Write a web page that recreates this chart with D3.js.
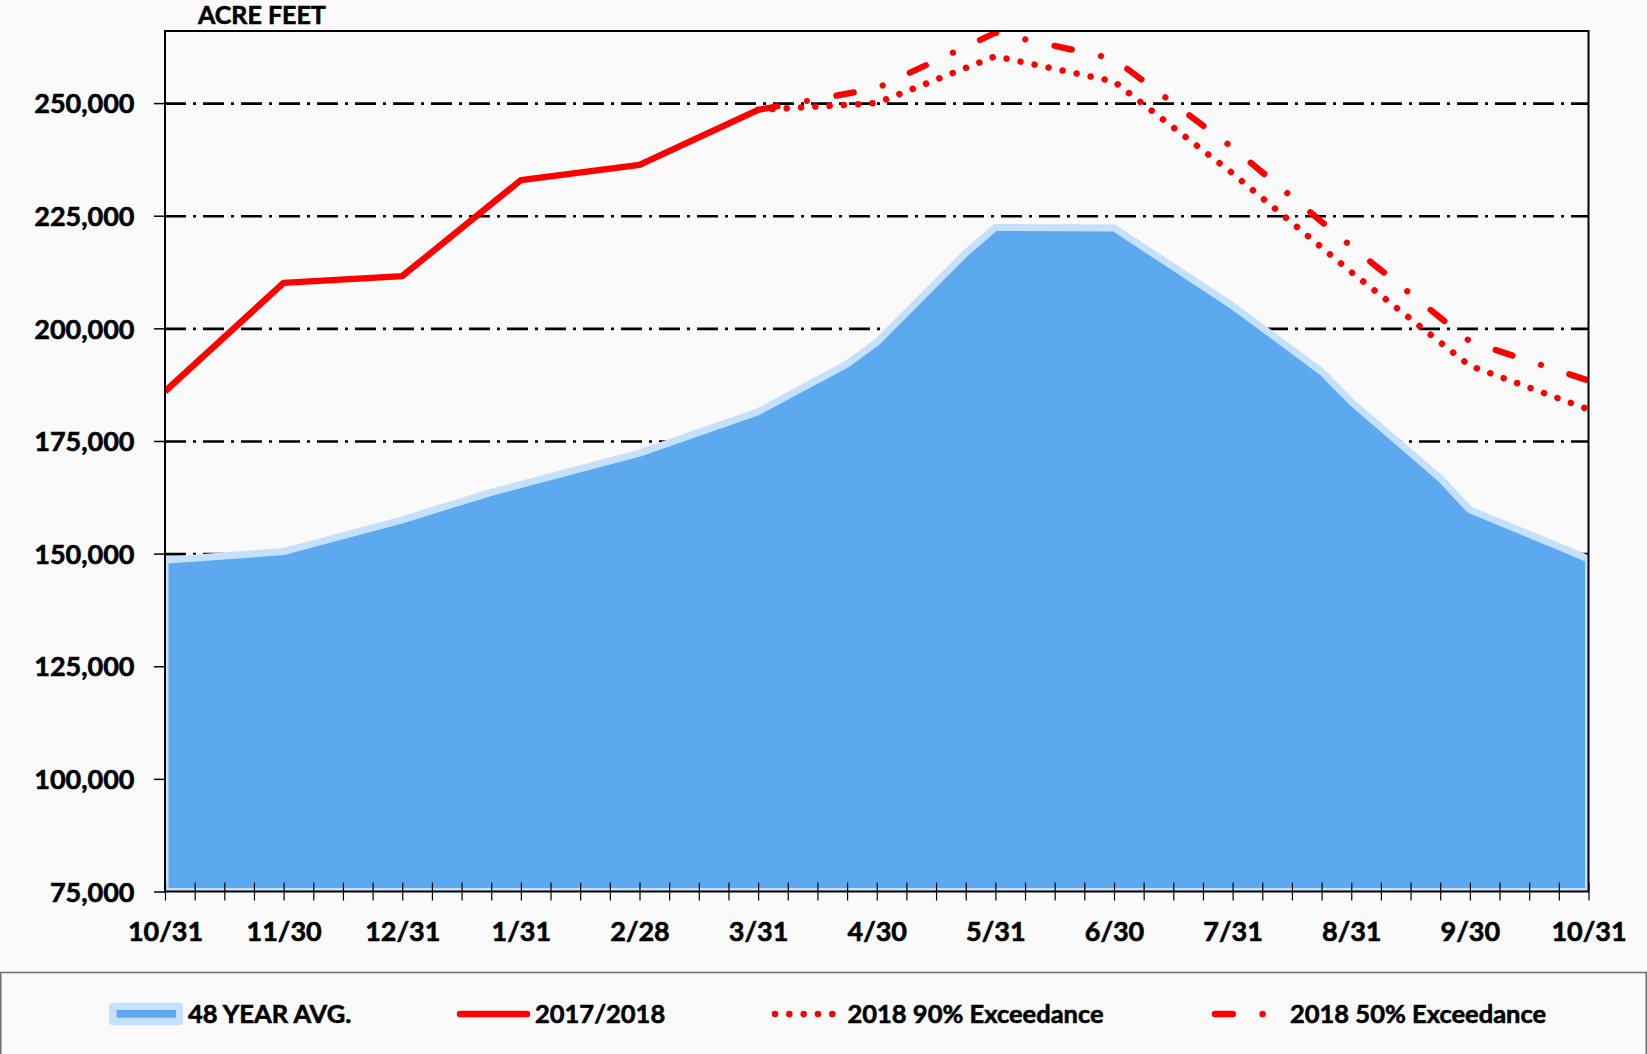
<!DOCTYPE html>
<html>
<head>
<meta charset="utf-8">
<script src="https://cdn.jsdelivr.net/npm/d3@7.9.0/dist/d3.min.js"></script>
<style>
  body { margin: 0; background: #fafafa; }
  svg { display: block; font-family: Lato, 'Open Sans', sans-serif; font-weight: bold; }
  svg text { stroke: #000; stroke-width: 0.6px; }
</style>
</head>
<body>
<div id="chart"></div>
<script>
// month-end labels, the axis has 4 steps per month (49 positions)
const monthLabels = ['10/31', '11/30', '12/31', '1/31', '2/28', '3/31', '4/30', '5/31', '6/30', '7/31', '8/31', '9/30', '10/31'];
const stepsPerMonth = 4;
const yTicks = [75000, 100000, 125000, 150000, 175000, 200000, 225000, 250000];

// 48 year average (vertices of the area)
const avgSteps = [0, 4, 8, 11, 16, 20, 23, 24, 27, 28, 32, 36, 39, 40, 43, 44, 47, 48];
const avgValues = [148500, 150450, 157500, 163600, 172300, 181500, 192100, 196900, 216700, 222400, 222300, 205000, 190400, 183700, 166700, 159700, 151600, 148800];

// 2017/2018 actual
const actualSteps = [0, 4, 8, 12, 16, 20];
const actualValues = [186000, 210100, 211600, 232900, 236300, 248500];

// forecasts from 3/31
const forecastSteps = [20, 24, 28, 32, 36, 40, 44, 48];
const exceed90Values = [248500, 250000, 260400, 254800, 234400, 212500, 191700, 182000];
const exceed50Values = [248500, 253300, 265600, 259800, 240100, 218200, 197100, 188400];

const width = 1647, height = 1054;
const plot = { left: 165, right: 1588.5, top: 31, bottom: 891.5 };
const RED = '#ff0000', BLUE = '#5ca9f0', BLUE_EDGE = '#c5e0fa';
const DOTS = '0.01 14.31', DASH_DOT = '17.7 29.9 0.01 29.9';

const nSteps = (monthLabels.length - 1) * stepsPerMonth;
const xScale = d3.scaleLinear().domain([0, nSteps]).range([plot.left, plot.right]);
const yScale = d3.scaleLinear().domain([75000, 266000]).range([plot.bottom, plot.top]);

const toPoints = (steps, values) => steps.map((s, i) => ({ step: s, value: values[i] }));
const avg = toPoints(avgSteps, avgValues);
const actual = toPoints(actualSteps, actualValues);
const exceed90 = toPoints(forecastSteps, exceed90Values);
const exceed50 = toPoints(forecastSteps, exceed50Values);

const svg = d3.select('#chart').append('svg')
  .attr('width', width).attr('height', height);

svg.append('defs').append('clipPath').attr('id', 'plot-clip')
  .append('rect')
  .attr('x', plot.left).attr('y', plot.top)
  .attr('width', plot.right - plot.left).attr('height', plot.bottom - plot.top);

// gridlines
svg.append('g').attr('class', 'gridlines')
  .attr('transform', `translate(${plot.left},0)`)
  .call(d3.axisLeft(yScale).tickValues(yTicks.slice(1)).tickFormat('').tickSize(-(plot.right - plot.left)))
  .call(g => g.select('.domain').remove())
  .call(g => g.selectAll('line')
    .attr('stroke', '#000').attr('stroke-width', 2.6).attr('stroke-dasharray', '21 7 3 7'));

const body = svg.append('g').attr('clip-path', 'url(#plot-clip)');

const area = d3.area()
  .x(d => xScale(d.step))
  .y0(yScale(75000))
  .y1(d => yScale(d.value));

body.append('path').datum(avg)
  .attr('d', area)
  .attr('fill', BLUE)
  .attr('stroke', BLUE_EDGE).attr('stroke-width', 7)
  .attr('stroke-linejoin', 'miter');

const line = d3.line().x(d => xScale(d.step)).y(d => yScale(d.value));

body.append('path').datum(exceed90)
  .attr('d', line).attr('fill', 'none')
  .attr('stroke', RED).attr('stroke-width', 6.5)
  .attr('stroke-linecap', 'round').attr('stroke-dasharray', DOTS);

body.append('path').datum(exceed50)
  .attr('d', line).attr('fill', 'none')
  .attr('stroke', RED).attr('stroke-width', 6.2)
  .attr('stroke-linecap', 'round').attr('stroke-dasharray', DASH_DOT)
  .attr('stroke-dashoffset', 75.5);

body.append('path').datum(actual)
  .attr('d', line).attr('fill', 'none')
  .attr('stroke', RED).attr('stroke-width', 6.4)
  .attr('stroke-linejoin', 'round');

// plot frame
svg.append('rect')
  .attr('x', plot.left).attr('y', plot.top)
  .attr('width', plot.right - plot.left).attr('height', plot.bottom - plot.top)
  .attr('fill', 'none').attr('stroke', '#000').attr('stroke-width', 2);

// y axis
svg.append('g')
  .attr('transform', `translate(${plot.left},0)`)
  .call(d3.axisLeft(yScale).tickValues(yTicks).tickSize(11).tickPadding(19.5).tickFormat(d3.format(',')))
  .call(g => g.attr('font-family', null).attr('font-size', null))
  .call(g => g.select('.domain').remove())
  .call(g => g.selectAll('line').attr('stroke', '#000').attr('stroke-width', 1.5))
  .call(g => g.selectAll('text').attr('fill', '#000').style('font-size', '27px').attr('dy', '0.36em'));

// x axis, ticks cross the axis line
svg.append('g')
  .attr('transform', `translate(0,${plot.bottom - 9})`)
  .call(d3.axisBottom(xScale).tickValues(d3.range(nSteps + 1)).tickSize(18).tickSizeOuter(0)
    .tickFormat(i => i % stepsPerMonth === 0 ? monthLabels[i / stepsPerMonth] : ''))
  .call(g => g.attr('font-family', null).attr('font-size', null))
  .call(g => g.select('.domain').remove())
  .call(g => g.selectAll('line').attr('stroke', '#000').attr('stroke-width', 1.2))
  .call(g => g.selectAll('text').attr('fill', '#000').style('font-size', '27px').attr('y', 58).attr('dy', 0));

svg.append('text')
  .attr('x', 198).attr('y', 24)
  .style('font-size', '25px')
  .text('ACRE FEET');

// legend
const legend = svg.append('g');
legend.append('rect')
  .attr('x', 0.75).attr('y', 972.5).attr('width', width - 1.5).attr('height', 120)
  .attr('fill', 'none').attr('stroke', '#707070').attr('stroke-width', 1.5);

const legendY = 1014;
const items = [
  { label: '48 YEAR AVG.', type: 'area', x0: 109, textX: 188 },
  { label: '2017/2018', type: 'solid', x0: 460, textX: 535 },
  { label: '2018 90% Exceedance', type: 'dots', x0: 775, textX: 847.5 },
  { label: '2018 50% Exceedance', type: 'dashdot', x0: 1215, textX: 1290 },
];

items.forEach(item => {
  if (item.type === 'area') {
    legend.append('rect').attr('x', item.x0).attr('y', legendY - 11.3)
      .attr('width', 74).attr('height', 22.6).attr('rx', 4)
      .attr('fill', BLUE_EDGE);
    legend.append('rect').attr('x', item.x0 + 7.7).attr('y', legendY - 4)
      .attr('width', 59.3).attr('height', 7.7)
      .attr('fill', BLUE);
  } else {
    const seg = legend.append('line')
      .attr('x1', item.x0).attr('y1', legendY)
      .attr('y2', legendY)
      .attr('stroke', RED).attr('stroke-width', 6.5)
      .attr('stroke-linecap', 'round');
    if (item.type === 'solid') seg.attr('x2', item.x0 + 67);
    if (item.type === 'dots') seg.attr('x2', item.x0 + 58).attr('stroke-dasharray', DOTS);
    if (item.type === 'dashdot') seg.attr('x2', item.x0 + 50).attr('stroke-dasharray', DASH_DOT);
  }
  legend.append('text')
    .attr('x', item.textX).attr('y', 1023)
    .style('font-size', '25.5px')
    .text(item.label);
});
</script>
</body>
</html>
